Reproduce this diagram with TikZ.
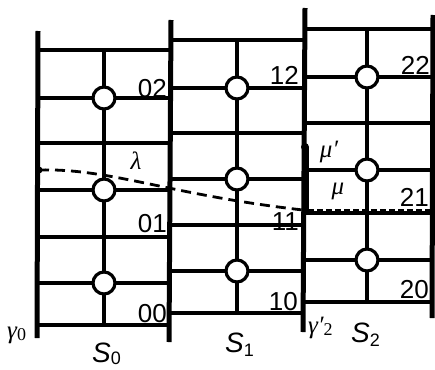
\documentclass[tikz,border=0pt]{standalone}
\usepackage{fontspec}
\setmainfont{Liberation Sans}
\newfontfamily\grk{Liberation Serif}
\begin{document}
\begin{tikzpicture}[x=1pt,y=-1pt,
  colline/.style={line width=5pt},
  gridline/.style={line width=3.3pt},
  state/.style={circle,draw,fill=white,line width=3.2pt,minimum size=22pt,inner sep=0pt},
  lab/.style={font=\fontsize{26}{26}\selectfont,inner sep=0pt,anchor=base east},
  slab/.style={font=\fontsize{28}{28}\selectfont\itshape,inner sep=0pt,anchor=base west},
  glab/.style={font=\fontsize{25}{25}\selectfont\grk\itshape,inner sep=0pt},
  trail/.style={dash pattern=on 10pt off 6pt,line width=2.8pt}]
\useasboundingbox (0,0) rectangle (435,369);
% column boundaries
\draw[colline] (38,31) -- (37,338);
\draw[colline] (171,20) -- (169,342);
\draw[colline] (305,8) -- (303,332);
\draw[colline] (433,15) -- (432,318);
% S0 grid
\foreach \y in {50,98,143,190,237,283,325} \draw[gridline] (38,\y) -- (170,\y);
\draw[gridline] (104,50) -- (104,325);
% S1 grid
\foreach \y in {40,88,133,179,225,271,313} \draw[gridline] (170,\y) -- (304,\y);
\draw[gridline] (237,40) -- (237,313);
% S2 grid
\foreach \y in {29,77,123,170,213,260,302} \draw[gridline] (304,\y) -- (433,\y);
\draw[gridline] (367,29) -- (367,302);
% states
\node[state] (c02) at (104,98) {};
\node[state] (c01) at (104,190) {};
\node[state] (c00) at (104,283) {};
\node[state] (c12) at (237,88) {};
\node[state] (c11) at (237,179) {};
\node[state] (c10) at (237,271) {};
\node[state] (c22) at (367,77) {};
\node[state] (c21) at (367,170) {};
\node[state] (c20) at (367,260) {};
% state labels
\node[lab] (l02) at (167,97) {02};
\node[lab] (l01) at (167,232) {01};
\node[lab] (l00) at (167,322) {00};
\node[lab] (l12) at (299,84) {12};
\node[lab] (l11) at (299,230) {11};
\node[lab] (l10) at (298,310) {10};
\node[lab] (l22) at (430,74) {22};
\node[lab] (l21) at (429,206) {21};
\node[lab] (l20) at (429,298) {20};
% trajectories
\coordinate (ls) at (39,170);
\coordinate (le) at (303,210);
\fill (ls) circle (3.5pt);
\draw[trail] (ls) .. controls (110,168) and (170,195) .. (le);
\coordinate (mtop) at (305,147);
\coordinate (mbot) at (305,212);
\draw[line width=7pt] (mtop) -- (mbot);
\fill (mtop) circle (4pt);
\coordinate (ms) at (308,210);
\coordinate (me) at (433,210);
\draw[dash pattern=on 6pt off 3pt,line width=2.4pt] (ms) -- (me);
\node[glab] (lam) at (136,161) {λ};
\node[glab] (mup) at (329,152) {μ′};
\node[glab] (mu) at (338,191) {μ};
% boundary labels
\node[glab,anchor=base west] (g0) at (7,338) {γ\raisebox{-0.25ex}{\fontsize{18}{18}\selectfont\upshape 0}};
\node[glab,anchor=base west] (g2) at (308,333) {γ′\raisebox{-0.25ex}{\fontsize{18}{18}\selectfont\upshape 2}};
\node[slab] (s0) at (92,362) {S\raisebox{-0.2ex}{\fontsize{18}{18}\selectfont\upshape 0}};
\node[slab] (s1) at (225,352) {S\raisebox{-0.3ex}{\fontsize{18}{18}\selectfont\upshape 1}};
\node[slab] (s2) at (351,342) {S\raisebox{-0.3ex}{\fontsize{18}{18}\selectfont\upshape 2}};
\end{tikzpicture}
\end{document}
